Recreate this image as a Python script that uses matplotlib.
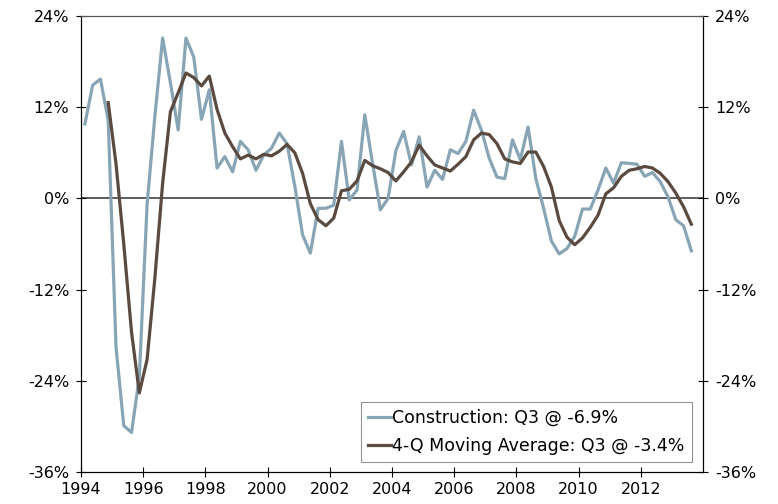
import matplotlib
matplotlib.use("Agg")
import matplotlib.pyplot as plt
from matplotlib.ticker import FuncFormatter
import numpy as np
import pandas as pd

# Quarterly data, 1994Q1 .. 2013Q3 (% y/y)
quarters = pd.period_range("1994Q1", "2013Q3", freq="Q")

construction = [
    9.8, 14.9, 15.7, 10.3, -19.5, -29.9, -30.8, -23.5, -0.8, 10.8,
    21.1, 15.2, 9.0, 21.1, 18.6, 10.4, 14.3, 4.0, 5.5, 3.5,
    7.5, 6.4, 3.7, 5.7, 6.6, 8.6, 7.2, 1.6, -4.8, -7.2,
    -1.3, -1.3, -0.9, 7.5, -0.2, 1.1, 11.0, 4.6, -1.5, 0.0,
    6.3, 8.8, 4.4, 8.1, 1.5, 3.7, 2.5, 6.4, 5.9, 7.5,
    11.6, 9.0, 5.3, 2.8, 2.6, 7.7, 5.1, 9.4, 2.6, -1.3,
    -5.6, -7.3, -6.6, -5.0, -1.4, -1.4, 1.1, 4.0, 2.0, 4.7,
    4.6, 4.5, 2.9, 3.4, 2.2, 0.2, -2.8, -3.6, -6.9,
]

# 4-quarter moving average, starts at 1994Q4
moving_avg = [
    12.6, 4.6, -6.0, -17.6, -25.6, -21.2, -10.5, 2.0, 11.4, 13.9,
    16.5, 15.9, 14.8, 16.1, 11.7, 8.6, 6.8, 5.2, 5.7, 5.2,
    5.8, 5.6, 6.2, 7.1, 6.0, 3.3, -0.7, -2.8, -3.6, -2.6,
    1.0, 1.2, 2.3, 5.0, 4.3, 3.9, 3.4, 2.3, 3.5, 4.8,
    7.0, 5.6, 4.4, 4.0, 3.6, 4.5, 5.5, 7.7, 8.6, 8.4,
    7.2, 5.2, 4.8, 4.6, 6.1, 6.1, 4.2, 1.5, -2.9, -5.1,
    -6.1, -5.2, -3.8, -2.2, 0.6, 1.4, 2.9, 3.7, 3.9, 4.2,
    4.0, 3.3, 2.2, 0.7, -1.1, -3.4,
]

x_years = [1994, 1996, 1998, 2000, 2002, 2004, 2006, 2008, 2010, 2012]
y_ticks = [-36, -24, -12, 0, 12, 24]

label_con = "Construction: Q3 @ -6.9%"
label_ma = "4-Q Moving Average: Q3 @ -3.4%"

# mid-quarter positions on a fractional-year axis
x = np.array([q.year + (q.quarter - 0.5) / 4 for q in quarters])
x_ma = x[len(x) - len(moving_avg):]

W, H = 778, 504
fig = plt.figure(figsize=(W / 100, H / 100), dpi=100)
ax = fig.add_axes([81 / W, 32 / H, (703 - 81) / W, (472 - 16) / H])

ax.axhline(0, color="#333333", lw=1.1, zorder=1)
ax.plot(x, construction, color="#88A5B6", lw=2.3, label=label_con, zorder=2)
ax.plot(x_ma, moving_avg, color="#5A4A3F", lw=2.3, label=label_ma, zorder=3)

ax.set_xlim(1994, 2014)
ax.set_ylim(-36, 24)
ax.set_xticks(x_years)
ax.set_yticks(y_ticks)
pct = FuncFormatter(lambda v, _: f"{v:.0f}%")
ax.yaxis.set_major_formatter(pct)

ax2 = ax.twinx()
ax2.set_ylim(-36, 24)
ax2.set_yticks(y_ticks)
ax2.yaxis.set_major_formatter(pct)

for a in (ax, ax2):
    a.tick_params(axis="y", direction="inout", length=7, width=0.8,
                  labelsize=11.5, pad=5, colors="black")
    a.spines["left"].set_color("black")
    a.spines["right"].set_color("black")
    a.spines["bottom"].set_color("black")
    a.spines["top"].set_color("#555555")
ax.tick_params(axis="x", direction="inout", length=7, width=0.8,
               labelsize=11.5, pad=4)

leg = ax.legend(loc="lower right", bbox_to_anchor=(0.982, 0.022),
                fontsize=12.5, frameon=True, fancybox=False,
                handlelength=1.3, handletextpad=0.1, borderpad=0.4,
                labelspacing=0.6, borderaxespad=0)
leg.get_frame().set_edgecolor("#777777")
leg.get_frame().set_linewidth(0.8)

plt.savefig("out.png", dpi=100)
plt.close(fig)
